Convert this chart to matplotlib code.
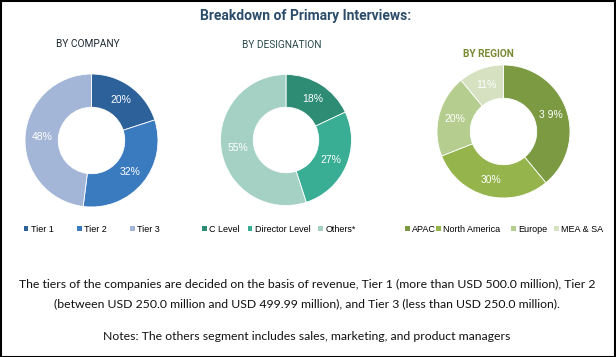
import matplotlib
matplotlib.use('Agg')
import numpy as np
import matplotlib.pyplot as plt
from matplotlib.patches import Rectangle

# data
company_labels = ['Tier 1', 'Tier 2', 'Tier 3']
company_values = [20, 32, 48]
designation_labels = ['C Level', 'Director Level', 'Others*']
designation_values = [18, 27, 55]
region_labels = ['APAC', 'North America', 'Europe', 'MEA & SA']
region_values = [39, 30, 20, 11]

company_colors = ['#2d619a', '#3a7abf', '#a4b6d8']
designation_colors = ['#2e8b74', '#3aae95', '#a5d1c5']
region_colors = ['#7b9a42', '#95b54c', '#b5cd8f', '#d5e1c0']

W, H = 616, 357
fig = plt.figure(figsize=(W / 100, H / 100), dpi=100)


def donut(cx, cy, r, values, colors, pct_fmt):
    ax = fig.add_axes([(cx - r) / W, 1 - (cy + r) / H, 2 * r / W, 2 * r / H])
    wedges, _ = ax.pie(values, colors=colors, startangle=90, counterclock=False,
                       radius=1, wedgeprops=dict(width=0.5, edgecolor='white', linewidth=0.6))
    ax.set_xlim(-1, 1)
    ax.set_ylim(-1, 1)
    ax.set_aspect('equal')
    ax.axis('off')
    for w, v in zip(wedges, values):
        ang = np.deg2rad((w.theta1 + w.theta2) / 2)
        ax.text(0.75 * np.cos(ang), 0.75 * np.sin(ang), pct_fmt(v), color='white',
                ha='center', va='center', fontsize=7.5, family='Liberation Sans')
    return wedges


w1 = donut(91.5, 140.5, 66.5, company_values, company_colors, lambda v: f'{v}%')
w2 = donut(286, 140, 65.5, designation_values, designation_colors, lambda v: f'{v}%')
w3 = donut(503.5, 131.5, 66.5, region_values, region_colors,
           lambda v: '3 9%' if v == 39 else f'{v}%')

# titles
fig.text(306 / W, 1 - 16 / H, 'Breakdown of Primary Interviews:', ha='center', va='center',
         fontsize=10, family='Roboto', fontweight='bold', color='#2b4d6b')
fig.text(88 / W, 1 - 44 / H, 'BY COMPANY', ha='center', va='center', fontsize=7.3,
         family='Roboto', color='#1f2a33')
fig.text(282 / W, 1 - 45 / H, 'BY DESIGNATION', ha='center', va='center', fontsize=7.3,
         family='Roboto', color='#2a4a4a')
fig.text(488 / W, 1 - 54 / H, 'BY REGION', ha='center', va='center', fontsize=7.3,
         family='Roboto', fontweight='bold', color='#7a8a34')

# legends, one entry each so the positions follow the reference
leg_kw = dict(frameon=False, handlelength=0.5, handleheight=0.5, handletextpad=0.3,
              prop={'family': 'Liberation Sans', 'size': 6.5}, loc='center left',
              bbox_transform=fig.transFigure, borderaxespad=0, borderpad=0)
legend_x = [23.5, 77, 130, 202, 247.5, 318, 405, 436, 511, 554]
handles = list(w1) + list(w2) + list(w3)
labels = company_labels + designation_labels + region_labels
for hd, lb, x in zip(handles, labels, legend_x):
    leg = fig.legend([hd], [lb], bbox_to_anchor=(x / W, 1 - 229 / H), **leg_kw)
    for h in leg.legend_handles:
        h.set_edgecolor('none')

# notes
note_kw = dict(ha='center', va='center', fontsize=8.8, family='Lato', color='#111111')
fig.text(307 / W, 1 - 284 / H,
         'The tiers of the companies are decided on the basis of revenue, Tier 1 (more than USD 500.0 million), Tier 2',
         **note_kw)
fig.text(307 / W, 1 - 304 / H,
         '(between USD 250.0 million and USD 499.99 million), and Tier 3 (less than USD 250.0 million).',
         **note_kw)
fig.text(307 / W, 1 - 336 / H,
         'Notes: The others segment includes sales, marketing, and product managers', **note_kw)

# outer border
fig.patches.append(Rectangle((0.5 / W, 0.5 / H), 1 - 1.5 / W, 1 - 1.5 / H, transform=fig.transFigure,
                             fill=False, edgecolor='black', linewidth=1.5))

fig.savefig('out.png', dpi=100)
